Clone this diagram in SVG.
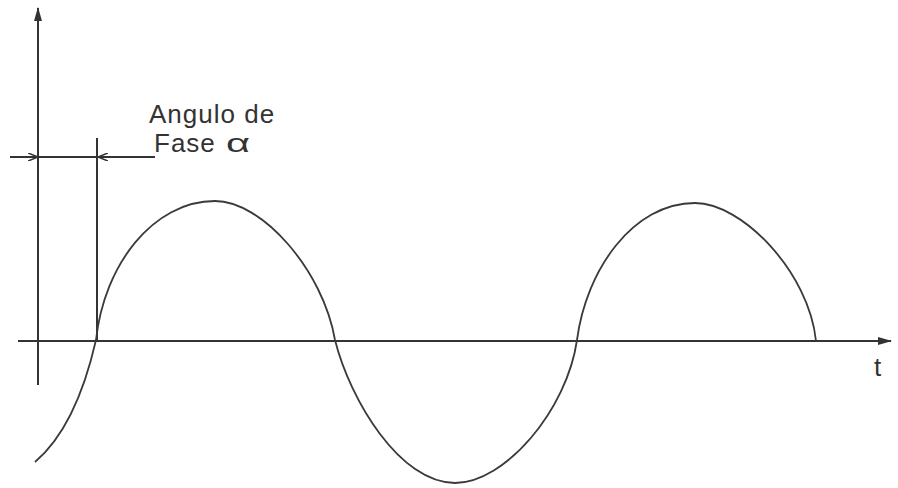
<svg xmlns="http://www.w3.org/2000/svg" width="898" height="488" viewBox="0 0 898 488">
<style>
.ln{stroke:#333;stroke-width:2;fill:none}
.cv{stroke:#3a3a3a;stroke-width:1.8;fill:none}
.tx{font-family:"Liberation Sans",Arial,sans-serif;fill:#333;font-size:26px}
</style>
<defs>
<marker id="ah" markerWidth="14" markerHeight="10" refX="13" refY="5" orient="auto" markerUnits="userSpaceOnUse">
<path d="M0,1 L14,5 L0,9 Z" fill="#333"/>
</marker>
<marker id="dim" markerWidth="10" markerHeight="8" refX="10" refY="4" orient="auto" markerUnits="userSpaceOnUse">
<path d="M0,0 L10,4 L0,8" fill="none" stroke="#333" stroke-width="1.6"/>
</marker>
</defs>
<rect width="898" height="488" fill="#fff"/>
<g id="connectors">
<line id="y-axis" class="ln" x1="38" y1="385" x2="38" y2="8" marker-end="url(#ah)"/>
<line id="t-axis" class="ln" x1="18" y1="341" x2="891" y2="341" marker-end="url(#ah)"/>
<line id="phase-tick" class="ln" stroke-width="1.6" x1="97" y1="138" x2="97" y2="341"/>
<line id="dim-line" class="ln" stroke-width="1.6" x1="10" y1="157" x2="155" y2="157"/>
<line class="ln" stroke-width="1.6" x1="26" y1="157" x2="38" y2="157" marker-end="url(#dim)"/>
<line class="ln" stroke-width="1.6" x1="112" y1="157" x2="98" y2="157" marker-end="url(#dim)"/>
</g>
<g id="wave">
<path class="cv" d="M35,462 C55,445 80,410 96,340 C104,265 153,201 215,201 C262,201 323,270 335,340 C350,400 400,483 455,483 C505,483 567,410 577,340 C586,270 633,203 695,203 C742,203 809,272 816,341"/>
</g>
<g id="label-phase">
<text class="tx" x="149" y="123" letter-spacing="1">Angulo de</text>
<text class="tx" x="154" y="152" letter-spacing="1">Fase</text>
<text class="tx" transform="translate(226,152) scale(1.6,1)">α</text>
</g>
<g id="label-t">
<text class="tx" x="874" y="376" font-size="30">t</text>
</g>
</svg>
